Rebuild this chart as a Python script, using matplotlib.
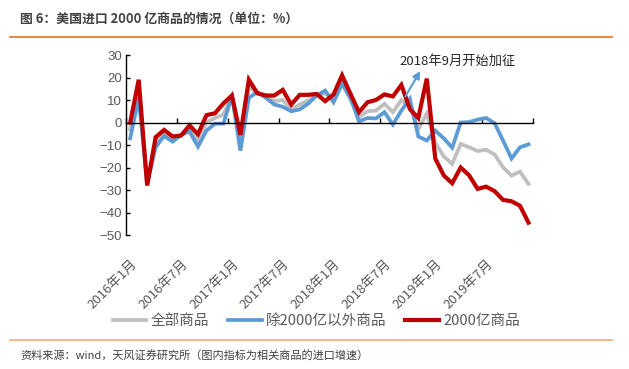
import numpy as np
import matplotlib
matplotlib.use("Agg")
import matplotlib.pyplot as plt
from matplotlib.lines import Line2D

cjk = ['Noto Sans CJK SC', 'DejaVu Sans']
plt.rcParams['font.family'] = cjk
plt.rcParams['axes.unicode_minus'] = True

# monthly data, 2016-01 .. 2019-12 (import growth, %)
all_goods = [-3, 15, -27.5, -9, -4.5, -7, -5.5, -2.5, -7.5, 0, 2, 3.5,
             12, -8, 16, 13, 12, 9.5, 10, 6, 8, 9.8, 12, 13,
             10.5, 17.5, 10, 2.4, 5, 5.3, 8.3, 4.6, 10, 6.8, -3, 4,
             -9, -15, -18.4, -9.5, -11, -12.7, -12.1, -14.2, -19.9, -23.6, -21.8, -27.3]
ex_200bn = [-7, 11, -27, -11, -6, -8.5, -5.5, -4, -10.7, -3.6, -0.5, -0.5,
            12, -12.5, 11, 13.5, 11, 8, 7, 5, 5.8, 8.4, 12, 14.2,
            9, 17.3, 11, 0.5, 2, 1.8, 4.6, -0.9, 5.3, 10.5, -6.2, -8,
            -3.6, -7, -11.2, 0, 0.2, 1.3, 2, -0.3, -8, -16, -11, -9.7]
goods_200bn = [0, 19, -28, -6.5, -3.3, -6.2, -5.8, -1.3, -5.2, 3.3, 4.1, 8.5,
               12, -5.5, 19, 13, 12, 12, 14.5, 8, 12.3, 12.3, 12.7, 9.5,
               12.5, 21, 12.7, 4.6, 9, 10, 12.5, 11.6, 16.7, 6, 2, 19.5,
               -16, -23.5, -27, -20, -23.5, -29.5, -28.5, -30.5, -34.4, -35, -37, -44.5]

tick_labels = ["2016年1月", "2016年7月", "2017年1月", "2017年7月",
               "2018年1月", "2018年7月", "2019年1月", "2019年7月"]
series_names = ["全部商品", "除2000亿以外商品", "2000亿商品"]
colors = ["#BFBFBF", "#5B9BD5", "#C00000"]

x = np.arange(len(all_goods))

fig = plt.figure(figsize=(6.29, 3.69), dpi=100)
ax = fig.add_axes([0.2003, 0.3631, 0.6466, 0.4878])

ax.plot(x, all_goods, color=colors[0], lw=2.7, label=series_names[0], solid_joinstyle='miter')
ax.plot(x, ex_200bn, color=colors[1], lw=2.7, label=series_names[1], solid_joinstyle='miter')
ax.plot(x, goods_200bn, color=colors[2], lw=3.0, label=series_names[2], solid_joinstyle='miter')

ax.set_xlim(-0.5, len(x) - 0.5)
ax.set_ylim(-50, 30)
ax.set_yticks(np.arange(-50, 31, 10))

for s in ['top', 'right']:
    ax.spines[s].set_visible(False)
ax.spines['bottom'].set_position(('data', 0))
ax.spines['bottom'].set_linewidth(1.0)
ax.spines['left'].set_linewidth(1.0)

ax.set_xticks(np.arange(-0.5, len(x), 6))
ax.tick_params(axis='x', direction='in', length=3.5, width=1, labelbottom=False)
ax.tick_params(axis='y', direction='in', length=3, width=1, pad=3,
               labelsize=9.5, labelcolor='#595959')
for t in ax.get_yticklabels():
    t.set_fontfamily(['Liberation Sans', 'DejaVu Sans'])

sec = ax.secondary_xaxis('bottom')
sec.set_xticks(x[::6], tick_labels)
sec.spines['bottom'].set_visible(False)
sec.tick_params(length=0, pad=16, labelsize=9.5, labelcolor='#595959')
for t in sec.get_xticklabels():
    t.set_rotation(45)
    t.set_ha('right')
    t.set_va('top')
    t.set_rotation_mode('anchor')

# annotation
ax.annotate('', xy=(34.4, 24), xytext=(32.3, 10.5),
            arrowprops=dict(arrowstyle='-|>', color=colors[1], lw=1.5, mutation_scale=11))
ax.text(31.8, 27.2, "2018年9月开始加征", fontsize=9.5, color='#262626', va='center', ha='left')

fig.legend(loc='center', bbox_to_anchor=(0.503, 0.13), ncol=3, frameon=False,
           fontsize=10.5, handlelength=2.3, handletextpad=0.3, columnspacing=1.3,
           labelcolor='#595959')

fig.text(20 / 629, 1 - 19 / 369, "图 6：美国进口 2000 亿商品的情况（单位：%）",
         fontsize=9.3, fontweight='bold', color='#404040', va='center', ha='left')
fig.add_artist(Line2D([10 / 629, 612 / 629], [1 - 37 / 369] * 2, color='#ED7D31', lw=1.3))
fig.add_artist(Line2D([10 / 629, 612 / 629], [1 - 340 / 369] * 2, color='#F4B183', lw=1.3))
fig.text(20 / 629, 1 - 355 / 369, "资料来源：wind，天风证券研究所（图内指标为相关商品的进口增速）",
         fontsize=8, color='#404040', va='center', ha='left')

fig.savefig('out.png', dpi=100)
